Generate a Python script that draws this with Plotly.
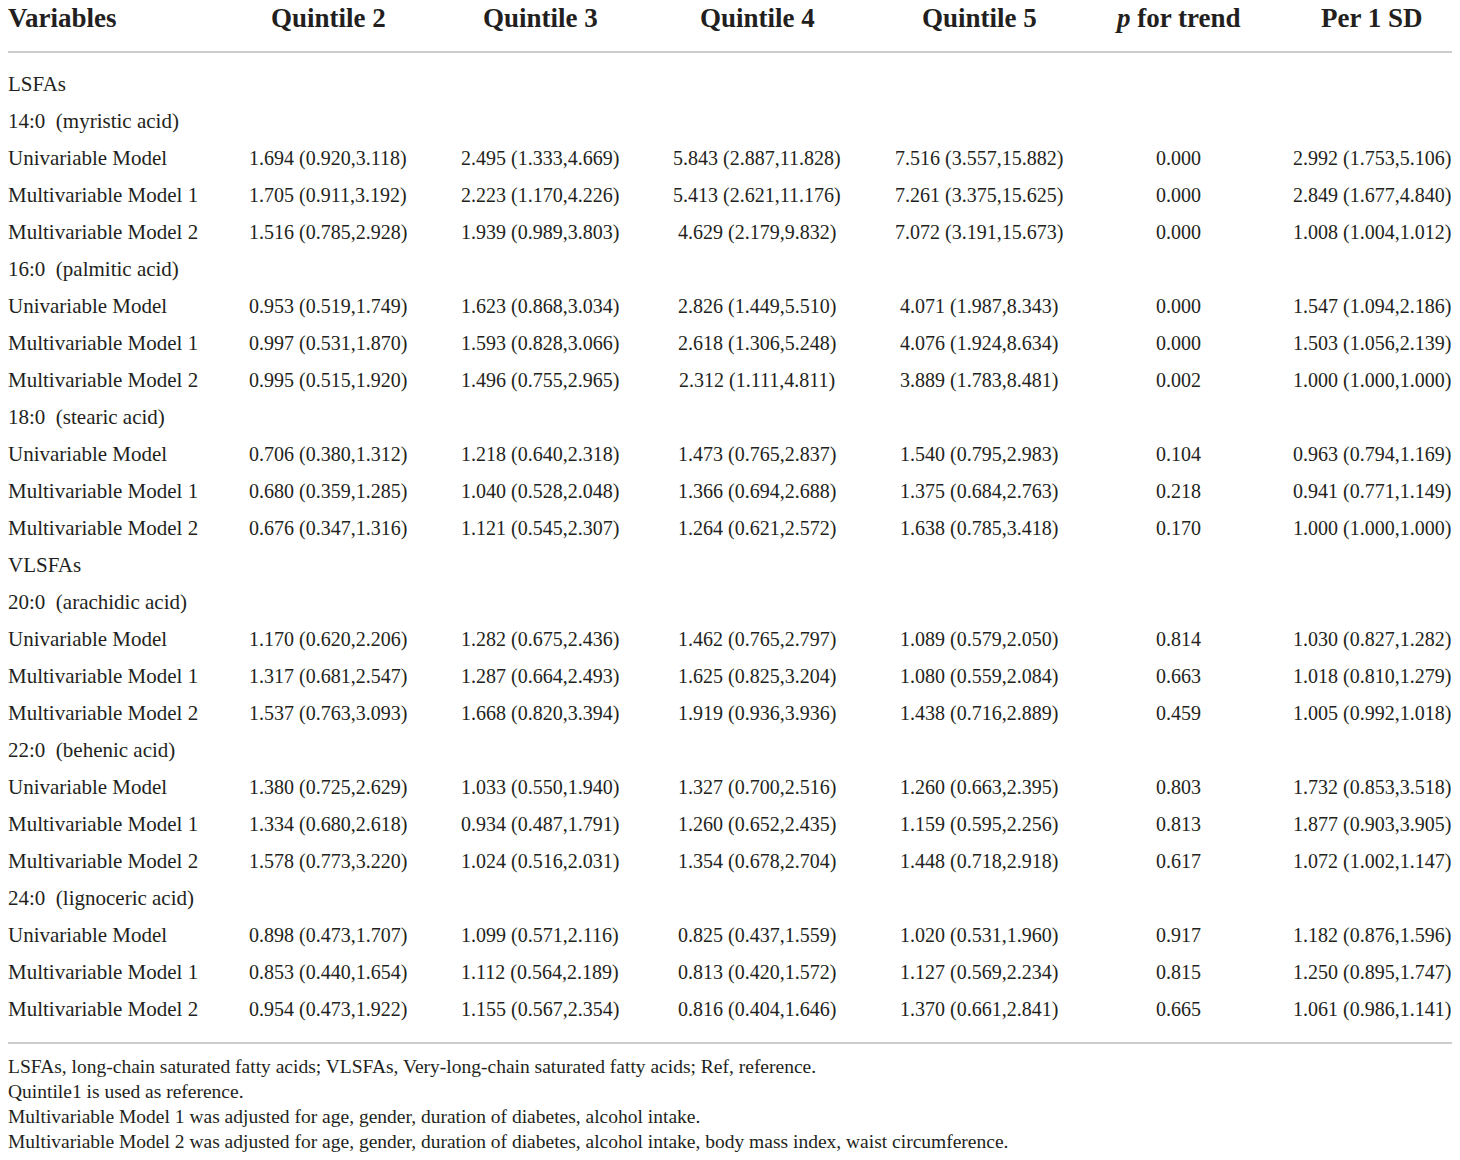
import plotly.graph_objects as go

# Column headers
columns = ["Variables", "Quintile 2", "Quintile 3", "Quintile 4", "Quintile 5",
           "<i>p</i> for trend", "Per 1 SD"]

# Row structure
acid_classes = ["LSFAs", "", "", "VLSFAs", "", ""]
acids = ["14:0  (myristic acid)", "16:0  (palmitic acid)", "18:0  (stearic acid)",
         "20:0  (arachidic acid)", "22:0  (behenic acid)", "24:0  (lignoceric acid)"]
models = ["Univariable Model", "Multivariable Model 1", "Multivariable Model 2"]

# Values, three models per acid, in acid order
quintile2 = [
    "1.694 (0.920,3.118)", "1.705 (0.911,3.192)", "1.516 (0.785,2.928)",
    "0.953 (0.519,1.749)", "0.997 (0.531,1.870)", "0.995 (0.515,1.920)",
    "0.706 (0.380,1.312)", "0.680 (0.359,1.285)", "0.676 (0.347,1.316)",
    "1.170 (0.620,2.206)", "1.317 (0.681,2.547)", "1.537 (0.763,3.093)",
    "1.380 (0.725,2.629)", "1.334 (0.680,2.618)", "1.578 (0.773,3.220)",
    "0.898 (0.473,1.707)", "0.853 (0.440,1.654)", "0.954 (0.473,1.922)",
]
quintile3 = [
    "2.495 (1.333,4.669)", "2.223 (1.170,4.226)", "1.939 (0.989,3.803)",
    "1.623 (0.868,3.034)", "1.593 (0.828,3.066)", "1.496 (0.755,2.965)",
    "1.218 (0.640,2.318)", "1.040 (0.528,2.048)", "1.121 (0.545,2.307)",
    "1.282 (0.675,2.436)", "1.287 (0.664,2.493)", "1.668 (0.820,3.394)",
    "1.033 (0.550,1.940)", "0.934 (0.487,1.791)", "1.024 (0.516,2.031)",
    "1.099 (0.571,2.116)", "1.112 (0.564,2.189)", "1.155 (0.567,2.354)",
]
quintile4 = [
    "5.843 (2.887,11.828)", "5.413 (2.621,11.176)", "4.629 (2.179,9.832)",
    "2.826 (1.449,5.510)", "2.618 (1.306,5.248)", "2.312 (1.111,4.811)",
    "1.473 (0.765,2.837)", "1.366 (0.694,2.688)", "1.264 (0.621,2.572)",
    "1.462 (0.765,2.797)", "1.625 (0.825,3.204)", "1.919 (0.936,3.936)",
    "1.327 (0.700,2.516)", "1.260 (0.652,2.435)", "1.354 (0.678,2.704)",
    "0.825 (0.437,1.559)", "0.813 (0.420,1.572)", "0.816 (0.404,1.646)",
]
quintile5 = [
    "7.516 (3.557,15.882)", "7.261 (3.375,15.625)", "7.072 (3.191,15.673)",
    "4.071 (1.987,8.343)", "4.076 (1.924,8.634)", "3.889 (1.783,8.481)",
    "1.540 (0.795,2.983)", "1.375 (0.684,2.763)", "1.638 (0.785,3.418)",
    "1.089 (0.579,2.050)", "1.080 (0.559,2.084)", "1.438 (0.716,2.889)",
    "1.260 (0.663,2.395)", "1.159 (0.595,2.256)", "1.448 (0.718,2.918)",
    "1.020 (0.531,1.960)", "1.127 (0.569,2.234)", "1.370 (0.661,2.841)",
]
p_trend = [
    "0.000", "0.000", "0.000",
    "0.000", "0.000", "0.002",
    "0.104", "0.218", "0.170",
    "0.814", "0.663", "0.459",
    "0.803", "0.813", "0.617",
    "0.917", "0.815", "0.665",
]
per_sd = [
    "2.992 (1.753,5.106)", "2.849 (1.677,4.840)", "1.008 (1.004,1.012)",
    "1.547 (1.094,2.186)", "1.503 (1.056,2.139)", "1.000 (1.000,1.000)",
    "0.963 (0.794,1.169)", "0.941 (0.771,1.149)", "1.000 (1.000,1.000)",
    "1.030 (0.827,1.282)", "1.018 (0.810,1.279)", "1.005 (0.992,1.018)",
    "1.732 (0.853,3.518)", "1.877 (0.903,3.905)", "1.072 (1.002,1.147)",
    "1.182 (0.876,1.596)", "1.250 (0.895,1.747)", "1.061 (0.986,1.141)",
]

footnotes = [
    "LSFAs, long-chain saturated fatty acids; VLSFAs, Very-long-chain saturated fatty acids; Ref, reference.",
    "Quintile1 is used as reference.",
    "Multivariable Model 1 was adjusted for age, gender, duration of diabetes, alcohol intake.",
    "Multivariable Model 2 was adjusted for age, gender, duration of diabetes, alcohol intake, body mass index, waist circumference.",
]

# axes set so one unit is one page pixel
W, H = 1460, 1160
FONT = "Liberation Serif"
INK = "#231f20"
col_x = [6, 328, 540, 757, 979, 1178, 1372]
header_y = 18
row_y0, row_step = 84, 37
foot_y0, foot_step = 1066, 25

# build the body rows: (label, [cells] or None)
value_cols = [quintile2, quintile3, quintile4, quintile5, p_trend, per_sd]
rows = []
k = 0
for cls, acid in zip(acid_classes, acids):
    if cls:
        rows.append((cls, None))
    rows.append((acid, None))
    for m in models:
        rows.append((m, [c[k] for c in value_cols]))
        k += 1

ann = []
for i, name in enumerate(columns):
    ann.append(dict(x=col_x[i], y=header_y, text="<b>" + name + "</b>",
                    xanchor="left" if i == 0 else "center",
                    font=dict(size=27, family=FONT, color=INK)))

for r, (label, cells) in enumerate(rows):
    y = row_y0 + r * row_step
    ann.append(dict(x=col_x[0], y=y, text=label, xanchor="left",
                    font=dict(size=21, family=FONT, color=INK)))
    if cells:
        for j, v in enumerate(cells):
            ann.append(dict(x=col_x[j + 1], y=y, text=v, xanchor="center",
                            font=dict(size=20, family=FONT, color=INK)))

for f, note in enumerate(footnotes):
    ann.append(dict(x=col_x[0], y=foot_y0 + f * foot_step, text=note, xanchor="left",
                    font=dict(size=19.5, family=FONT, color=INK)))

for a in ann:
    a.update(xref="x", yref="y", yanchor="middle", showarrow=False)

fig = go.Figure()
fig.update_layout(
    width=W, height=H,
    margin=dict(l=0, r=0, t=0, b=0),
    paper_bgcolor="white", plot_bgcolor="white",
    xaxis=dict(range=[0, W], visible=False, fixedrange=True),
    yaxis=dict(range=[H, 0], visible=False, fixedrange=True),
    annotations=ann,
    shapes=[
        dict(type="line", xref="x", yref="y", x0=8, x1=1452, y0=52, y1=52,
             line=dict(color="#cccccc", width=2)),
        dict(type="line", xref="x", yref="y", x0=8, x1=1452, y0=1043, y1=1043,
             line=dict(color="#cccccc", width=2)),
    ],
    showlegend=False,
)

# drop the default page margin so the figure starts at the window corner
fig.write_html("out.html", config={"displayModeBar": False},
               post_script="document.body.style.margin='0';")
